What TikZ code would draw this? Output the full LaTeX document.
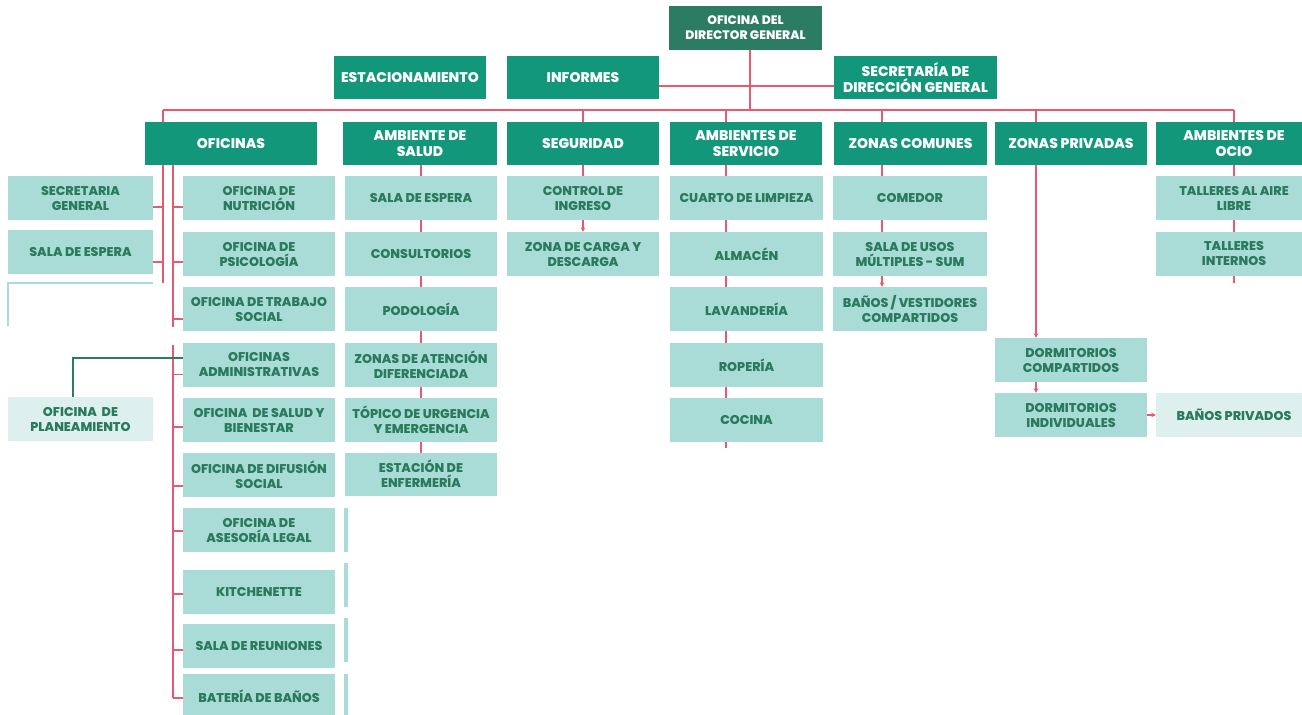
\documentclass[tikz,border=0pt]{standalone}
\usepackage{fontspec}
\setmainfont{Poppins}[BoldFont={Poppins ExtraBold}]
\usetikzlibrary{arrows.meta}

\definecolor{dirgreen}{HTML}{2C7C63}
\definecolor{headgreen}{HTML}{12977A}
\definecolor{subteal}{HTML}{A9DCD7}
\definecolor{paleteal}{HTML}{DDF0EE}
\definecolor{inkgreen}{HTML}{2A7A5C}
\definecolor{wirered}{HTML}{E45A6E}

\tikzset{
  box/.style={rectangle, inner sep=0pt, align=center},
  topbox/.style={box, fill=dirgreen, text=white, minimum width=#1, minimum height=44,
    font=\bfseries\fontsize{12.3}{15}\selectfont},
  headbox/.style={box, fill=headgreen, text=white, minimum width=#1, minimum height=43,
    font=\bfseries\fontsize{14}{16}\selectfont},
  subbox/.style={box, fill=subteal, text=inkgreen, minimum width=#1, minimum height=44,
    font=\bfseries\fontsize{12.7}{15}\selectfont},
  palebox/.style={subbox=#1, fill=paleteal},
  wire/.style={draw=wirered, line width=1.1pt},
  arr/.style={wire, -{Stealth[length=4.5pt,width=4.5pt]}},
}

\begin{document}
\begin{tikzpicture}[x=1pt,y=-1pt]
\useasboundingbox (0,0) rectangle (1302,715);
\clip (0,0) rectangle (1302,715);

% bar and column lines go under the boxes
\coordinate (barL) at (163,110);
\coordinate (barR) at (1234,110);
\draw[wire] (barL) -- (barR);
\draw[wire] (750,50) -- (750,110);
\draw[wire] (659,86) -- (834,86);
\draw[wire] (barL) -- (163,283);
\draw[wire] (173,165) -- (173,327);
\draw[wire] (173,345) -- (173,698);
\draw[wire] (421,165) -- (421,453);
\draw[wire] (583,110) -- (583,176);
\draw[wire] (726,110) -- (726,448);
\draw[wire] (882,110) -- (882,232);
\draw[wire] (barR) -- (1234,283);

% top row
\node[topbox=153] (dir) at (745.5,28) {OFICINA DEL\\DIRECTOR GENERAL};
\node[headbox=152] (estac) at (410,77.5) {ESTACIONAMIENTO};
\node[headbox=152] (inf) at (583,77.5) {INFORMES};
\node[headbox=163] (secr) at (915.5,77.5) {SECRETARÍA DE\\DIRECCIÓN GENERAL};

% areas
\node[headbox=172] (ofi) at (231,143.5) {OFICINAS};
\node[headbox=154] (salud) at (420,143.5) {AMBIENTE DE\\SALUD};
\node[headbox=152] (seg) at (583,143.5) {SEGURIDAD};
\node[headbox=152] (serv) at (746,143.5) {AMBIENTES DE\\SERVICIO};
\node[headbox=153] (comun) at (910.5,143.5) {ZONAS COMUNES};
\node[headbox=152] (priv) at (1071,143.5) {ZONAS PRIVADAS};
\node[headbox=156] (ocio) at (1234,143.5) {AMBIENTES DE\\OCIO};

% oficinas
\node[subbox=145] (secg) at (80.5,198) {SECRETARIA\\GENERAL};
\node[subbox=145] (lesp) at (80.5,252) {SALA DE ESPERA};
\node[palebox=145] (plan) at (80.5,419) {OFICINA\ \ DE\\PLANEAMIENTO};
\node[subbox=152] (nut) at (259,198) {OFICINA DE\\NUTRICIÓN};
\node[subbox=152] (psi) at (259,254) {OFICINA DE\\PSICOLOGÍA};
\node[subbox=152] (tra) at (259,309) {OFICINA DE TRABAJO\\SOCIAL};
\node[subbox=152] (adm) at (259,364.5) {OFICINAS\\ADMINISTRATIVAS};
\node[subbox=152] (bie) at (259,420) {OFICINA\ \ DE SALUD Y\\BIENESTAR};
\node[subbox=152] (dif) at (259,475) {OFICINA DE DIFUSIÓN\\SOCIAL};
\node[subbox=152] (ase) at (259,530) {OFICINA DE\\ASESORÍA LEGAL};
\node[subbox=152] (kit) at (259,592) {KITCHENETTE};
\node[subbox=152] (reu) at (259,646) {SALA DE REUNIONES};
\node[subbox=152] (bat) at (259,696) {BATERÍA DE BAÑOS};

% salud
\node[subbox=152] (sesp) at (421,198) {SALA DE ESPERA};
\node[subbox=152] (cons) at (421,254) {CONSULTORIOS};
\node[subbox=152] (podo) at (421,309) {PODOLOGÍA};
\node[subbox=152] (zat) at (421,365) {ZONAS DE ATENCIÓN\\DIFERENCIADA};
\node[subbox=152] (topi) at (421,420) {TÓPICO DE URGENCIA\\Y EMERGENCIA};
\node[subbox=152, minimum height=43] (enf) at (421,474) {ESTACIÓN DE\\ENFERMERÍA};

% seguridad
\node[subbox=152] (ctrl) at (583,198) {CONTROL DE\\INGRESO};
\node[subbox=152] (carga) at (583,254) {ZONA DE CARGA Y\\DESCARGA};

% servicio
\node[subbox=153] (limp) at (746.5,198) {CUARTO DE LIMPIEZA};
\node[subbox=153] (alm) at (746.5,254) {ALMACÉN};
\node[subbox=153] (lav) at (746.5,309) {LAVANDERÍA};
\node[subbox=153] (rop) at (746.5,365) {ROPERÍA};
\node[subbox=153] (coc) at (746.5,420) {COCINA};

% zonas comunes
\node[subbox=154] (come) at (910,198) {COMEDOR};
\node[subbox=154] (sum) at (910,254) {SALA DE USOS\\MÚLTIPLES - SUM};
\node[subbox=154] (vest) at (910,309) {BAÑOS / VESTIDORES\\COMPARTIDOS};

% zonas privadas y ocio
\node[subbox=152] (comp) at (1071,360) {DORMITORIOS\\COMPARTIDOS};
\node[subbox=152] (indiv) at (1071,415) {DORMITORIOS\\INDIVIDUALES};
\node[subbox=156] (tal1) at (1234,198) {TALLERES AL AIRE\\LIBRE};
\node[subbox=156] (tal2) at (1234,253.5) {TALLERES\\INTERNOS};
\node[palebox=156] (bpriv) at (1234,415) {BAÑOS PRIVADOS};

% ticks to the office boxes
\foreach \n/\d in {secg/9,lesp/10}
  \draw[wire] ([yshift=-\d pt]\n.east) -- ++(10,0);
\foreach \n/\d in {nut/9,psi/8,tra/10,adm/10,bie/7,dif/11,ase/1,kit/2,reu/4,bat/2}
  \draw[wire] ([yshift=-\d pt]\n.west) -- ++(-10,0);
\draw[draw=dirgreen, line width=1.1pt] ([yshift=6.5pt]adm.west) -| ([xshift=-7.5pt]plan.north);

% arrows
\draw[arr] (ctrl.south) -- (carga.north);
\draw[arr] (sum.south -| 882,0) -- (vest.north -| 882,0);
\draw[wire] (1036,110) -- (1036,122);
\draw[arr] (priv.south -| 1036,0) -- (comp.north -| 1036,0);
\draw[arr] (comp.south -| 1036,0) -- (indiv.north -| 1036,0);
\draw[arr] (indiv.east) -- (bpriv.west);

% cut edges of boxes
\draw[subteal, line width=1.5pt] (153,283) -- (8,283) -- (8,326);
\foreach \y in {508,563,618,674}
  \fill[subteal] (344,\y) rectangle (348,\y+44);
\end{tikzpicture}
\end{document}
